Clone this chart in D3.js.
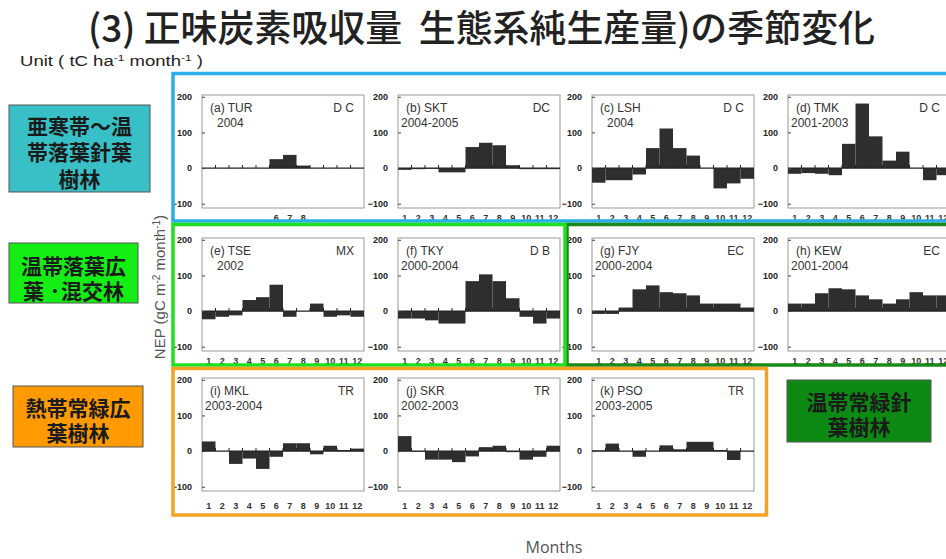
<!DOCTYPE html>
<html>
<head>
<meta charset="utf-8">
<script src="https://cdn.jsdelivr.net/npm/d3@7/dist/d3.min.js"></script>
<style>
  body { margin: 0; background: #fff; }
  svg { display: block; }
</style>
</head>
<body>
<div id="chart"></div>
<script>
// data (gC m-2 month-1)
const months = [1, 2, 3, 4, 5, 6, 7, 8, 9, 10, 11, 12];
const yTicks = [-100, 0, 100, 200];
const siteNames = ['(a) TUR', '(b) SKT', '(c) LSH', '(d) TMK', '(e) TSE', '(f) TKY', '(g) FJY', '(h) KEW', '(i) MKL', '(j) SKR', '(k) PSO'];
const siteYears = ['2004', '2004-2005', '2004', '2001-2003', '2002', '2000-2004', '2000-2004', '2001-2004', '2003-2004', '2002-2003', '2003-2005'];
const siteTypes = ['D C', 'DC', 'D C', 'D C', 'MX', 'D B', 'EC', 'EC', 'TR', 'TR', 'TR'];

const TUR = [null, null, null, null, null, 25, 37, 7, null, null, null, null];
const SKT = [-5, -3, -2, -12, -12, 59, 71, 64, 8, -3, -3, -3];
const LSH = [-41, -34, -34, -18, 56, 111, 56, 35, 0, -57, -43, -30];
const TMK = [-16, -14, -16, -20, 68, 181, 89, 21, 46, 0, -34, -20];
const TSE = [-23, -16, -12, 31, 39, 74, -16, 0, 21, -16, -12, -16];
const TKY = [-21, -21, -26, -35, -35, 84, 103, 84, 36, -16, -35, -21];
const FJY = [-8, -8, 10, 61, 72, 53, 50, 44, 21, 21, 21, 10];
const KEW = [21, 21, 50, 64, 61, 44, 33, 21, 33, 53, 44, 44];
const MKL = [27, 0, -36, -21, -50, -16, 22, 22, -9, 15, 3, 7];
const SKR = [42, -2, -24, -24, -31, -15, 11, 15, -3, -24, -16, 15];
const PSO = [2, 21, 0, -16, 0, 16, 5, 26, 26, 3, -25, 0];
const siteValues = [TUR, SKT, LSH, TMK, TSE, TKY, FJY, KEW, MKL, SKR, PSO];
const labelMonths = [[6, 7, 8], months, months, months, months, months, months, months, months, months, months];

const groupLabels = [
  ['亜寒帯～温', '帯落葉針葉', '樹林'],
  ['温帯落葉広', '葉 ·混交林'],
  ['熱帯常緑広', '葉樹林'],
  ['温帯常緑針', '葉樹林']
];

const W = 946, H = 559;
const svg = d3.select('#chart').append('svg').attr('width', W).attr('height', H);
const latin = "'Liberation Sans Narrow', 'Liberation Sans', Arial, sans-serif";
const cjk = "'Noto Sans CJK JP', 'Noto Sans', sans-serif";

// title and unit
svg.append('text')
  .attr('x', 88).attr('y', 42)
  .attr('textLength', 787).attr('lengthAdjust', 'spacingAndGlyphs')
  .style('white-space', 'pre')
  .style('font-family', cjk).style('font-size', '37px').style('font-weight', 500).attr('fill', '#222')
  .text('(3) 正味炭素吸収量  生態系純生産量)の季節変化');

const unit = svg.append('text').attr('x', 20).attr('y', 66)
  .attr('textLength', 183).attr('lengthAdjust', 'spacingAndGlyphs')
  .style('font-family', latin).style('font-size', '14px').attr('fill', '#222');
unit.append('tspan').text('Unit ( tC ha');
unit.append('tspan').attr('dy', -5).style('font-size', '9px').text('-1');
unit.append('tspan').attr('dy', 5).text(' month');
unit.append('tspan').attr('dy', -5).style('font-size', '9px').text('-1');
unit.append('tspan').attr('dy', 5).text(' )');

// panels
const colX = [202, 398, 592, 788];
const rowTop = [95, 238, 378];
const labelBase = [221, 364, 509];
const pw = 162, ph = 113;

siteValues.forEach((vals, i) => {
  const row = i < 4 ? 0 : i < 8 ? 1 : 2;
  const col = i < 8 ? i % 4 : i - 8;
  const g = svg.append('g').attr('transform', `translate(${colX[col]},${rowTop[row]})`);

  const x = d3.scaleBand().domain(months).range([0, pw]);
  const y = d3.scaleLinear().domain([-112, 205]).range([ph, 0]);

  g.append('rect').attr('width', pw).attr('height', ph)
    .attr('fill', '#fff').attr('stroke', '#9a9a9a').attr('stroke-width', 1);

  const data = months.map((m, j) => ({ m, v: vals[j] })).filter(d => d.v !== null);
  g.selectAll('.bar').data(data).enter().append('rect')
    .attr('class', 'bar')
    .attr('x', d => x(d.m))
    .attr('y', d => y(Math.max(0, d.v)))
    .attr('width', x.bandwidth())
    .attr('height', d => Math.abs(y(d.v) - y(0)))
    .attr('fill', '#2e2e2e');

  g.append('line').attr('x1', 0).attr('x2', pw).attr('y1', y(0)).attr('y2', y(0))
    .attr('stroke', '#222').attr('stroke-width', 1.3);

  g.selectAll('.mtick').data(months.slice(1)).enter().append('line')
    .attr('x1', d => x(d)).attr('x2', d => x(d))
    .attr('y1', y(0)).attr('y2', y(0) - 3)
    .attr('stroke', '#222');

  const ax = g.append('g')
    .call(d3.axisLeft(y).tickValues(yTicks).tickSizeInner(-3).tickSizeOuter(0).tickPadding(10));
  ax.select('.domain').remove();
  ax.selectAll('line').attr('stroke', '#444');
  ax.selectAll('text').style('font-family', latin).style('font-size', '9px')
    .style('font-weight', 'bold').attr('fill', '#222');

  g.selectAll('.mlab').data(labelMonths[i]).enter().append('text')
    .attr('x', d => x(d) + x.bandwidth() / 2)
    .attr('y', labelBase[row] - rowTop[row])
    .attr('text-anchor', 'middle')
    .style('font-family', latin).style('font-size', '9px').style('font-weight', 'bold')
    .attr('fill', '#333')
    .text(d => d);

  const txt = (s, tx, ty, anchor) => g.append('text')
    .attr('x', tx).attr('y', ty).attr('text-anchor', anchor || 'start')
    .style('font-family', latin).style('font-size', '12px').attr('fill', '#333').text(s);
  txt(siteNames[i], 8, 17);
  txt(siteYears[i], siteYears[i].length > 4 ? 3 : 15, 32);
  txt(siteTypes[i], pw - 10, 17, 'end');
});

// NEP label
const nep = svg.append('text')
  .attr('transform', 'translate(165,287) rotate(-90)')
  .attr('text-anchor', 'middle')
  .style('font-family', latin).style('font-size', '15px').attr('fill', '#555');
nep.append('tspan').text('NEP (gC m');
nep.append('tspan').attr('dy', -5).style('font-size', '10px').text('-2');
nep.append('tspan').attr('dy', 5).text(' month');
nep.append('tspan').attr('dy', -5).style('font-size', '10px').text('-1');
nep.append('tspan').attr('dy', 5).text(')');

svg.append('text').attr('x', 554).attr('y', 553).attr('text-anchor', 'middle')
  .style('font-family', "'Open Sans', 'Liberation Sans', sans-serif").style('font-size', '16px')
  .attr('fill', '#555').text('Months');

// group frames
const frame = (x0, y0, x1, y1, c) => svg.append('rect')
  .attr('x', x0).attr('y', y0).attr('width', x1 - x0).attr('height', y1 - y0)
  .attr('fill', 'none').attr('stroke', c).attr('stroke-width', 3.5);
frame(173, 73.5, 960, 221, '#2aaee6');
frame(567, 224.5, 960, 365, '#1a8a1a');
frame(173, 224.5, 565, 365, '#1fe01f');
frame(173, 368.5, 766.5, 515, '#f3a224');

// group label boxes
const boxes = [
  { x: 9, y: 105, w: 141, h: 87, fill: '#38c0c6', lines: groupLabels[0], ty: 126, step: 26.5 },
  { x: 9, y: 243, w: 129, h: 60, fill: '#14ee14', lines: groupLabels[1], ty: 266, step: 25 },
  { x: 13, y: 386, w: 130, h: 61, fill: '#ff9a00', lines: groupLabels[2], ty: 408, step: 25 },
  { x: 787, y: 380, w: 144, h: 62, fill: '#0c8a14', lines: groupLabels[3], ty: 402, step: 25 }
];
boxes.forEach(b => {
  svg.append('rect').attr('x', b.x).attr('y', b.y).attr('width', b.w).attr('height', b.h)
    .attr('fill', b.fill).attr('stroke', '#555').attr('stroke-width', 1);
  const t = svg.append('text')
    .attr('text-anchor', 'middle')
    .style('font-family', cjk).style('font-size', '21px').style('font-weight', 'bold')
    .attr('fill', '#1a1a1a');
  b.lines.forEach((l, k) => t.append('tspan')
    .attr('x', b.x + b.w / 2).attr('y', b.ty + k * b.step).attr('dy', '0.36em').text(l));
});
</script>
</body>
</html>
